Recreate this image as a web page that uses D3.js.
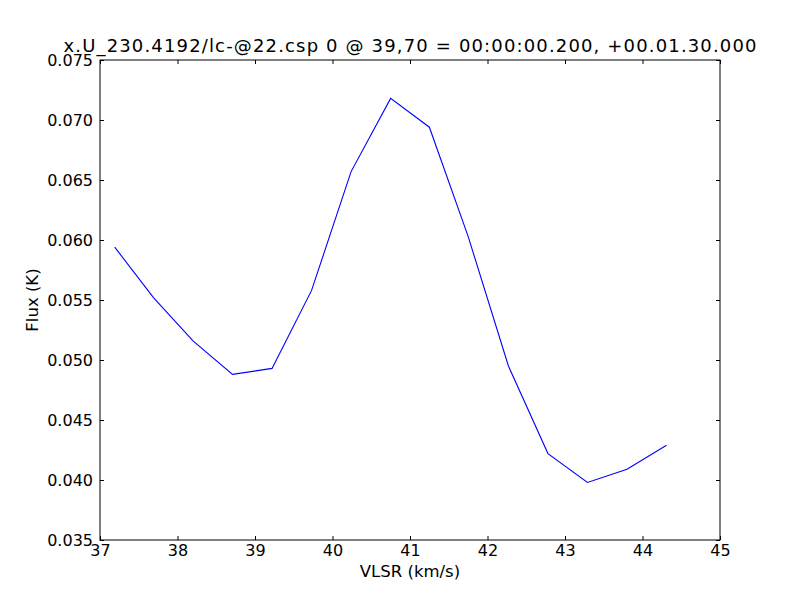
<!DOCTYPE html>
<html>
<head>
<meta charset="utf-8">
<script src="https://cdn.jsdelivr.net/npm/d3@7"></script>
<style>
  body { margin: 0; background: #fff; }
  text { font-family: "DejaVu Sans", sans-serif; fill: #000; }
</style>
</head>
<body>
<svg id="chart" width="800" height="600"></svg>
<script>
// velocity (km/s) and flux (K)
const vlsr = [37.19, 37.69, 38.20, 38.71, 39.22, 39.73, 40.24, 40.75, 41.25, 41.75, 42.27, 42.78, 43.29, 43.80, 44.31];
const flux = [0.0594, 0.0552, 0.0516, 0.0488, 0.0493, 0.0558, 0.0657, 0.0718, 0.0694, 0.0603, 0.0495, 0.0422, 0.0398, 0.0409, 0.0429];
const xTicks = [37, 38, 39, 40, 41, 42, 43, 44, 45];
const yTicks = [0.035, 0.040, 0.045, 0.050, 0.055, 0.060, 0.065, 0.070, 0.075];
const title = "x.U_230.4192/lc-@22.csp 0 @ 39,70 = 00:00:00.200, +00.01.30.000";

const plotL = 100, plotR = 720, plotT = 60, plotB = 540;
const svg = d3.select("#chart");

const x = d3.scaleLinear().domain([37, 45]).range([plotL, plotR]);
const y = d3.scaleLinear().domain([0.035, 0.075]).range([plotB, plotT]);

// line
const line = d3.line().x((d, i) => x(vlsr[i])).y(d => y(d));
svg.append("path")
  .datum(flux)
  .attr("fill", "none")
  .attr("stroke", "#0000ff")
  .attr("stroke-width", 1.1)
  .attr("d", line);

// ticks inward on all four sides
const tickLen = 4;
const fmt = d3.format(".3f");
svg.append("g").attr("transform", `translate(0,${plotB})`)
  .call(d3.axisBottom(x).tickValues(xTicks).tickSize(-tickLen).tickPadding(4.5).tickFormat(d3.format("d")))
  .call(g => g.select(".domain").remove());
svg.append("g").attr("transform", `translate(0,${plotT})`)
  .call(d3.axisTop(x).tickValues(xTicks).tickSize(-tickLen).tickFormat(""))
  .call(g => g.select(".domain").remove());
svg.append("g").attr("transform", `translate(${plotL},0)`)
  .call(d3.axisLeft(y).tickValues(yTicks).tickSize(-tickLen).tickPadding(7).tickFormat(fmt))
  .call(g => g.select(".domain").remove());
svg.append("g").attr("transform", `translate(${plotR},0)`)
  .call(d3.axisRight(y).tickValues(yTicks).tickSize(-tickLen).tickFormat(""))
  .call(g => g.select(".domain").remove());

svg.selectAll(".tick text")
  .style("font-family", "DejaVu Sans, sans-serif")
  .style("font-size", "16px")
  .attr("fill", "#000");
svg.selectAll(".tick line").attr("stroke", "#000");

// frame
svg.append("rect")
  .attr("x", plotL).attr("y", plotT)
  .attr("width", plotR - plotL).attr("height", plotB - plotT)
  .attr("fill", "none").attr("stroke", "#000").attr("stroke-width", 1);

svg.append("text")
  .attr("x", (plotL + plotR) / 2).attr("y", 52)
  .attr("text-anchor", "middle")
  .attr("textLength", 693)
  .attr("lengthAdjust", "spacing")
  .style("font-size", "18px")
  .text(title);

svg.append("text")
  .attr("x", (plotL + plotR) / 2).attr("y", 577)
  .attr("text-anchor", "middle")
  .style("font-size", "16.5px")
  .text("VLSR (km/s)");

svg.append("text")
  .attr("transform", `translate(38,${(plotT + plotB) / 2}) rotate(-90)`)
  .attr("text-anchor", "middle")
  .style("font-size", "16.5px")
  .text("Flux (K)");
</script>
</body>
</html>
